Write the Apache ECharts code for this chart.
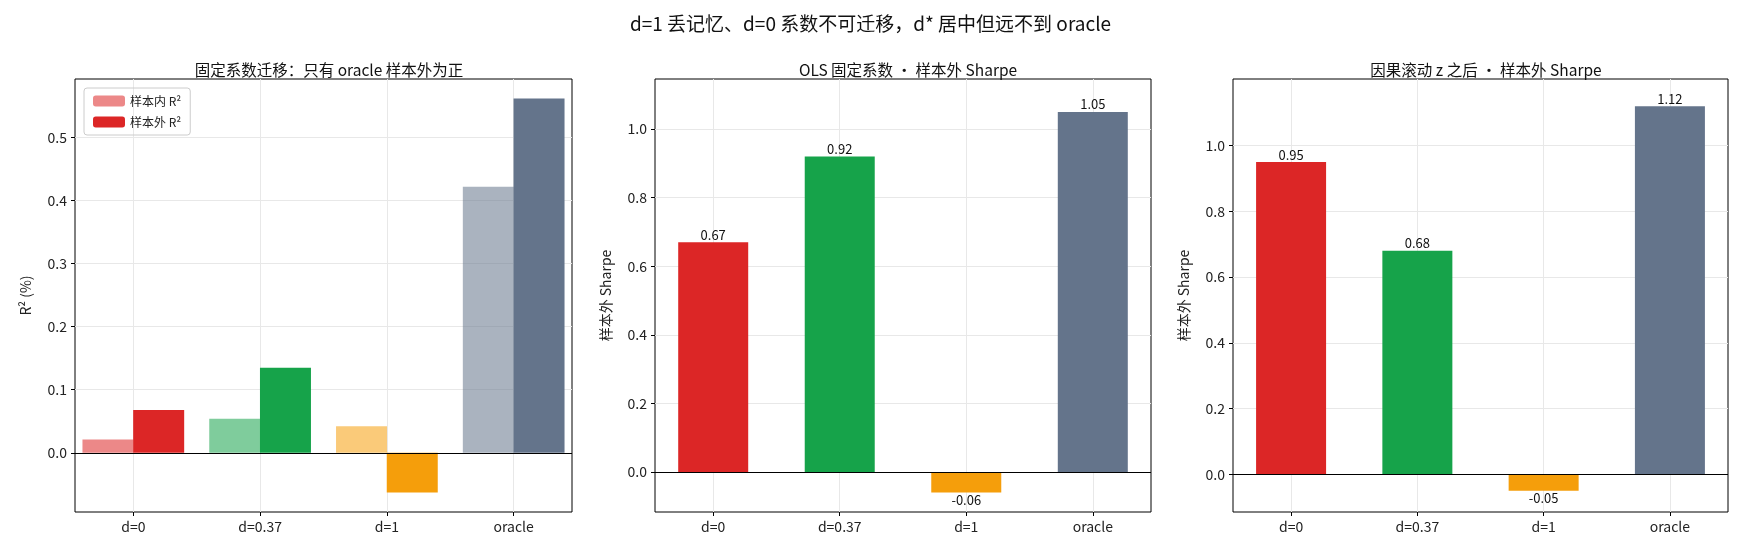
<!DOCTYPE html><html><head><meta charset="utf-8"><script src="https://cdn.jsdelivr.net/npm/echarts@6/dist/echarts.min.js"></script></head><body style="margin:0"><div id="c" style="width:1741px;height:554px"></div><script>
const categories=['d=0','d=0.37','d=1','oracle'];
const colors=['#dc2626','#16a34a','#f59e0b','#64748b'];
const r2In=[0.021,0.054,0.042,0.422];
const r2Out=[0.068,0.135,-0.063,0.562];
const sharpeOLS=[0.67,0.92,-0.06,1.05];
const sharpeRoll=[0.95,0.68,-0.05,1.12];
const yTicks1=[0,0.1,0.2,0.3,0.4,0.5];
const yTicks2=[0,0.2,0.4,0.6,0.8,1.0];
const F='"Noto Sans CJK SC", sans-serif';
const grids=[{left:75,width:497},{left:655,width:496},{left:1233,width:495}].map(g=>({...g,top:79,height:433,show:true,borderColor:'#000',borderWidth:1,backgroundColor:'transparent'}));
const ylims=[[-0.094,0.593],[-0.117,1.146],[-0.115,1.203]];
const xAxis=grids.map((g,i)=>({type:'value',gridIndex:i,min:-0.46,max:3.46,
 axisLabel:{formatter:v=>categories[Math.round(v)]||'',fontFamily:F,fontSize:14,color:'#222',customValues:[0,1,2,3]},
 axisTick:{show:true,customValues:[0,1,2,3],length:4,lineStyle:{color:'#000'}},axisLine:{show:false,onZero:false},
 splitLine:{show:true,customValues:[0,1,2,3],lineStyle:{color:'#e8e8e8'}}}));
const names=['R² (%)','样本外 Sharpe','样本外 Sharpe'];
const yAxis=ylims.map((l,i)=>{const t=i==0?yTicks1:yTicks2;return {type:'value',gridIndex:i,min:l[0],max:l[1],
 axisLabel:{formatter:v=>v.toFixed(1),fontFamily:F,fontSize:14,color:'#222',customValues:t},
 axisTick:{show:true,length:4,lineStyle:{color:'#000'},customValues:t},
 splitLine:{show:true,lineStyle:{color:'#e8e8e8'},customValues:t},axisLine:{show:false,onZero:false},
 name:names[i],nameLocation:'middle',nameGap:42,nameTextStyle:{fontFamily:F,fontSize:14,color:'#222'}};});
const zero={silent:true,symbol:'none',label:{show:false},lineStyle:{color:'#000',type:'solid',width:1},data:[{yAxis:0}]};
const series=[
 {type:'bar',name:'样本内 R²',xAxisIndex:0,yAxisIndex:0,barWidth:51,barGap:'-100%',itemStyle:{color:'#dc2626',opacity:0.55},
  data:r2In.map((v,k)=>({value:[k-0.2,v],itemStyle:{color:colors[k],opacity:0.55}})),markLine:zero},
 {type:'bar',name:'样本外 R²',xAxisIndex:0,yAxisIndex:0,barWidth:51,barGap:'-100%',itemStyle:{color:'#dc2626'},
  data:r2Out.map((v,k)=>({value:[k+0.2,v],itemStyle:{color:colors[k]}}))}
];
[sharpeOLS,sharpeRoll].forEach((arr,j)=>series.push({type:'bar',xAxisIndex:j+1,yAxisIndex:j+1,barWidth:70,
 data:arr.map((v,k)=>({value:[k,v],itemStyle:{color:colors[k]},label:{show:true,position:v<0?'bottom':'top',distance:1,formatter:v.toFixed(2),fontFamily:F,fontSize:13,color:'#111'}})),markLine:zero}));
const ch=echarts.init(document.getElementById('c'));
ch.setOption({animation:false,backgroundColor:'#fff',
 title:[{text:'d=1 丢记忆、d=0 系数不可迁移，d* 居中但远不到 oracle',left:'center',top:9,textStyle:{fontFamily:F,fontSize:19,fontWeight:'normal',color:'#111'}},
  {text:'固定系数迁移：只有 oracle 样本外为正',left:324,textAlign:'center',top:57,textStyle:{fontFamily:F,fontSize:15.5,fontWeight:'normal',color:'#111'}},
  {text:'OLS 固定系数 · 样本外 Sharpe',left:903,textAlign:'center',top:57,textStyle:{fontFamily:F,fontSize:15.5,fontWeight:'normal',color:'#111'}},
  {text:'因果滚动 z 之后 · 样本外 Sharpe',left:1481,textAlign:'center',top:57,textStyle:{fontFamily:F,fontSize:15.5,fontWeight:'normal',color:'#111'}}],
 legend:{left:84,top:88,orient:'vertical',itemWidth:32,itemHeight:11,itemGap:9,padding:[7,9],borderColor:'#ccc',borderWidth:1,borderRadius:3,
  textStyle:{fontFamily:F,fontSize:12,color:'#222'},data:['样本内 R²','样本外 R²']},
 grid:grids,xAxis,yAxis,series});
</script></body></html>
